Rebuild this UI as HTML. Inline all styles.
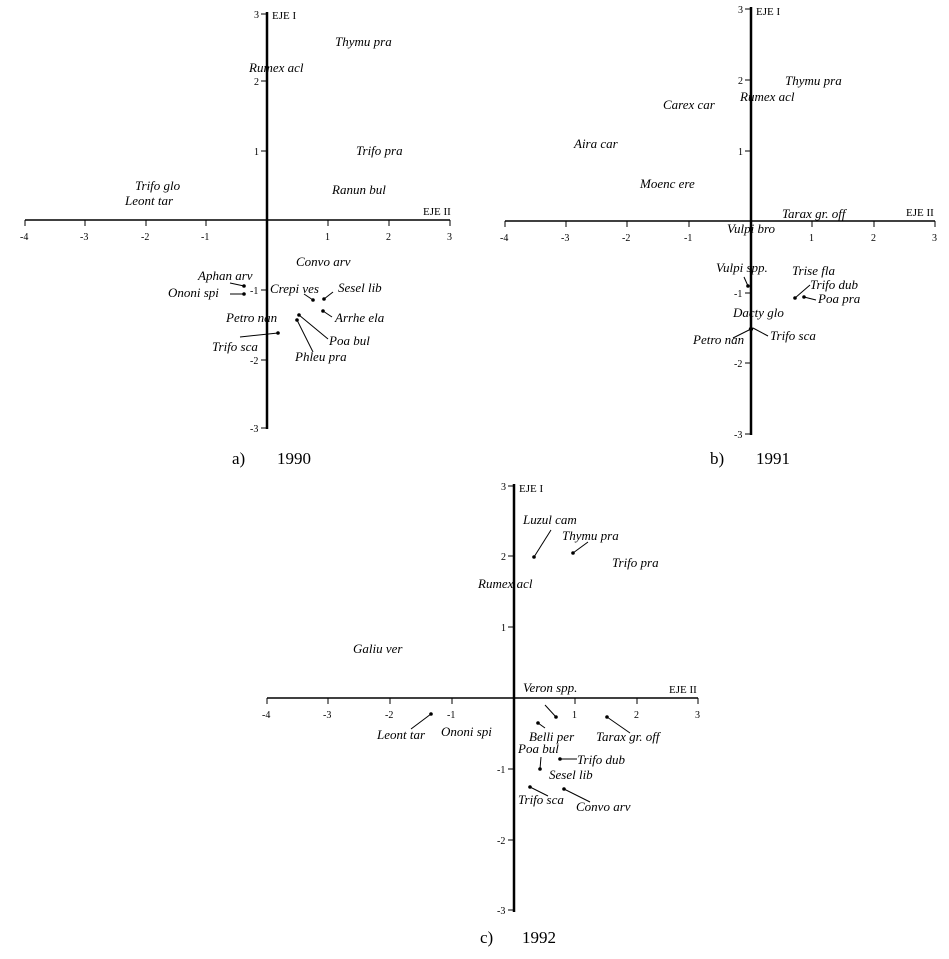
<!DOCTYPE html>
<html><head><meta charset="utf-8"><style>
html,body{margin:0;padding:0;background:#fff;}
svg{display:block;}
.l{font-family:"Liberation Serif",serif;font-style:italic;font-size:13px;fill:#000;}
.t{font-family:"Liberation Serif",serif;font-size:11px;fill:#000;}
.n{font-family:"Liberation Serif",serif;font-size:10px;fill:#000;}
.h{font-family:"Liberation Serif",serif;font-size:17px;fill:#000;}
line{stroke:#000;stroke-width:1;}
.ax{stroke-width:1.5;}
.yax{stroke-width:2.5;}
</style></head><body>
<svg width="949" height="959" viewBox="0 0 949 959" xmlns="http://www.w3.org/2000/svg">
<!-- Panel a -->
<line class="ax" x1="25" y1="220" x2="450" y2="220"/>
<line class="yax" x1="267" y1="12" x2="267" y2="429"/>
<g>
<line x1="25" y1="220" x2="25" y2="226"/><line x1="85" y1="220" x2="85" y2="226"/><line x1="146" y1="220" x2="146" y2="226"/><line x1="206" y1="220" x2="206" y2="226"/><line x1="328" y1="220" x2="328" y2="226"/><line x1="389" y1="220" x2="389" y2="226"/><line x1="450" y1="220" x2="450" y2="226"/>
<line x1="261" y1="14" x2="267" y2="14"/><line x1="261" y1="81" x2="267" y2="81"/><line x1="261" y1="151" x2="267" y2="151"/><line x1="261" y1="290" x2="267" y2="290"/><line x1="261" y1="360" x2="267" y2="360"/><line x1="261" y1="428" x2="267" y2="428"/>
</g>
<text class="n" x="20" y="240">-4</text><text class="n" x="80" y="240">-3</text><text class="n" x="141" y="240">-2</text><text class="n" x="201" y="240">-1</text><text class="n" x="325" y="240">1</text><text class="n" x="386" y="240">2</text><text class="n" x="447" y="240">3</text>
<text class="n" x="254" y="18">3</text><text class="n" x="254" y="85">2</text><text class="n" x="254" y="155">1</text><text class="n" x="250" y="294">-1</text><text class="n" x="250" y="364">-2</text><text class="n" x="250" y="432">-3</text>
<text class="t" x="272" y="19">EJE I</text><text class="t" x="423" y="215">EJE II</text>
<text class="l" x="335" y="46">Thymu pra</text><text class="l" x="249" y="72">Rumex acl</text><text class="l" x="356" y="155">Trifo pra</text>
<text class="l" x="135" y="190">Trifo glo</text><text class="l" x="125" y="205">Leont  tar</text><text class="l" x="332" y="194">Ranun bul</text>
<text class="l" x="296" y="266">Convo arv</text><text class="l" x="198" y="280">Aphan arv</text><text class="l" x="168" y="297">Ononi spi</text>
<text class="l" x="270" y="293">Crepi ves</text><text class="l" x="338" y="292">Sesel lib</text><text class="l" x="226" y="322">Petro nan</text>
<text class="l" x="335" y="322">Arrhe ela</text><text class="l" x="212" y="351">Trifo sca</text><text class="l" x="329" y="345">Poa bul</text><text class="l" x="295" y="361">Phleu pra</text>
<g fill="#000">
<circle cx="244" cy="286" r="1.8"/><circle cx="244" cy="294" r="1.8"/><circle cx="313" cy="300" r="1.8"/><circle cx="324" cy="299" r="1.8"/><circle cx="323" cy="311" r="1.8"/><circle cx="299" cy="315" r="1.8"/><circle cx="297" cy="320" r="1.8"/><circle cx="278" cy="333" r="1.8"/>
</g>
<line x1="230" y1="283" x2="244" y2="286"/><line x1="230" y1="294" x2="244" y2="294"/><line x1="304" y1="294" x2="313" y2="300"/><line x1="333" y1="292" x2="324" y2="299"/><line x1="323" y1="311" x2="332" y2="317"/><line x1="299" y1="315" x2="328" y2="339"/><line x1="297" y1="320" x2="313" y2="352"/><line x1="240" y1="337" x2="278" y2="333"/>
<text class="h" x="232" y="464">a)</text><text class="h" x="277" y="464">1990</text>

<!-- Panel b -->
<line class="ax" x1="505" y1="221" x2="935" y2="221"/>
<line class="yax" x1="751" y1="7" x2="751" y2="435"/>
<line x1="505" y1="221" x2="505" y2="227"/><line x1="566" y1="221" x2="566" y2="227"/><line x1="627" y1="221" x2="627" y2="227"/><line x1="689" y1="221" x2="689" y2="227"/><line x1="812" y1="221" x2="812" y2="227"/><line x1="874" y1="221" x2="874" y2="227"/><line x1="935" y1="221" x2="935" y2="227"/>
<line x1="745" y1="9" x2="751" y2="9"/><line x1="745" y1="80" x2="751" y2="80"/><line x1="745" y1="151" x2="751" y2="151"/><line x1="745" y1="293" x2="751" y2="293"/><line x1="745" y1="363" x2="751" y2="363"/><line x1="745" y1="434" x2="751" y2="434"/>
<text class="n" x="500" y="241">-4</text><text class="n" x="561" y="241">-3</text><text class="n" x="622" y="241">-2</text><text class="n" x="684" y="241">-1</text><text class="n" x="809" y="241">1</text><text class="n" x="871" y="241">2</text><text class="n" x="932" y="241">3</text>
<text class="n" x="738" y="13">3</text><text class="n" x="738" y="84">2</text><text class="n" x="738" y="155">1</text><text class="n" x="734" y="297">-1</text><text class="n" x="734" y="367">-2</text><text class="n" x="734" y="438">-3</text>
<text class="t" x="756" y="15">EJE I</text><text class="t" x="906" y="216">EJE II</text>
<text class="l" x="785" y="85">Thymu pra</text><text class="l" x="740" y="101">Rumex acl</text><text class="l" x="663" y="109">Carex car</text>
<text class="l" x="574" y="148">Aira car</text><text class="l" x="640" y="188">Moenc ere</text><text class="l" x="782" y="218">Tarax gr. off</text>
<text class="l" x="727" y="233">Vulpi bro</text><text class="l" x="716" y="272">Vulpi spp.</text><text class="l" x="792" y="275">Trise fla</text>
<text class="l" x="810" y="289">Trifo dub</text><text class="l" x="818" y="303">Poa pra</text><text class="l" x="733" y="317">Dacty glo</text>
<text class="l" x="693" y="344">Petro nan</text><text class="l" x="770" y="340">Trifo sca</text>
<g fill="#000"><circle cx="748" cy="286" r="1.8"/><circle cx="795" cy="298" r="1.8"/><circle cx="804" cy="297" r="1.8"/><circle cx="751" cy="329" r="2.2"/></g>
<line x1="744" y1="277" x2="748" y2="286"/><line x1="795" y1="298" x2="810" y2="285"/><line x1="804" y1="297" x2="816" y2="300"/><line x1="751" y1="329" x2="733" y2="338"/><line x1="753" y1="328" x2="768" y2="336"/>
<text class="h" x="710" y="464">b)</text><text class="h" x="756" y="464">1991</text>

<!-- Panel c -->
<line class="ax" x1="267" y1="698" x2="698" y2="698"/>
<line class="yax" x1="514" y1="484" x2="514" y2="912"/>
<line x1="267" y1="698" x2="267" y2="704"/><line x1="328" y1="698" x2="328" y2="704"/><line x1="390" y1="698" x2="390" y2="704"/><line x1="452" y1="698" x2="452" y2="704"/><line x1="575" y1="698" x2="575" y2="704"/><line x1="637" y1="698" x2="637" y2="704"/><line x1="698" y1="698" x2="698" y2="704"/>
<line x1="508" y1="486" x2="514" y2="486"/><line x1="508" y1="556" x2="514" y2="556"/><line x1="508" y1="627" x2="514" y2="627"/><line x1="508" y1="769" x2="514" y2="769"/><line x1="508" y1="840" x2="514" y2="840"/><line x1="508" y1="910" x2="514" y2="910"/>
<text class="n" x="262" y="718">-4</text><text class="n" x="323" y="718">-3</text><text class="n" x="385" y="718">-2</text><text class="n" x="447" y="718">-1</text><text class="n" x="572" y="718">1</text><text class="n" x="634" y="718">2</text><text class="n" x="695" y="718">3</text>
<text class="n" x="501" y="490">3</text><text class="n" x="501" y="560">2</text><text class="n" x="501" y="631">1</text><text class="n" x="497" y="773">-1</text><text class="n" x="497" y="844">-2</text><text class="n" x="497" y="914">-3</text>
<text class="t" x="519" y="492">EJE I</text><text class="t" x="669" y="693">EJE II</text>
<text class="l" x="523" y="524">Luzul cam</text><text class="l" x="562" y="540">Thymu pra</text><text class="l" x="612" y="567">Trifo pra</text>
<text class="l" x="478" y="588">Rumex acl</text><text class="l" x="353" y="653">Galiu ver</text><text class="l" x="523" y="692">Veron spp.</text>
<text class="l" x="377" y="739">Leont tar</text><text class="l" x="441" y="736">Ononi spi</text><text class="l" x="529" y="741">Belli per</text>
<text class="l" x="596" y="741">Tarax gr. off</text><text class="l" x="518" y="753">Poa bul</text><text class="l" x="577" y="764">Trifo dub</text>
<text class="l" x="549" y="779">Sesel lib</text><text class="l" x="518" y="804">Trifo sca</text><text class="l" x="576" y="811">Convo arv</text>
<g fill="#000"><circle cx="534" cy="557" r="1.8"/><circle cx="573" cy="553" r="1.8"/><circle cx="431" cy="714" r="1.8"/><circle cx="556" cy="717" r="1.8"/><circle cx="538" cy="723" r="1.8"/><circle cx="607" cy="717" r="1.8"/><circle cx="540" cy="769" r="1.8"/><circle cx="560" cy="759" r="1.8"/><circle cx="530" cy="787" r="1.8"/><circle cx="564" cy="789" r="1.8"/></g>
<line x1="534" y1="557" x2="551" y2="530"/><line x1="573" y1="553" x2="588" y2="542"/><line x1="431" y1="714" x2="411" y2="729"/><line x1="545" y1="705" x2="556" y2="717"/><line x1="538" y1="723" x2="545" y2="728"/><line x1="607" y1="717" x2="630" y2="733"/><line x1="541" y1="757" x2="540" y2="769"/><line x1="560" y1="759" x2="577" y2="759"/><line x1="530" y1="787" x2="548" y2="796"/><line x1="564" y1="789" x2="590" y2="802"/>
<text class="h" x="480" y="943">c)</text><text class="h" x="522" y="943">1992</text>
</svg>
</body></html>
